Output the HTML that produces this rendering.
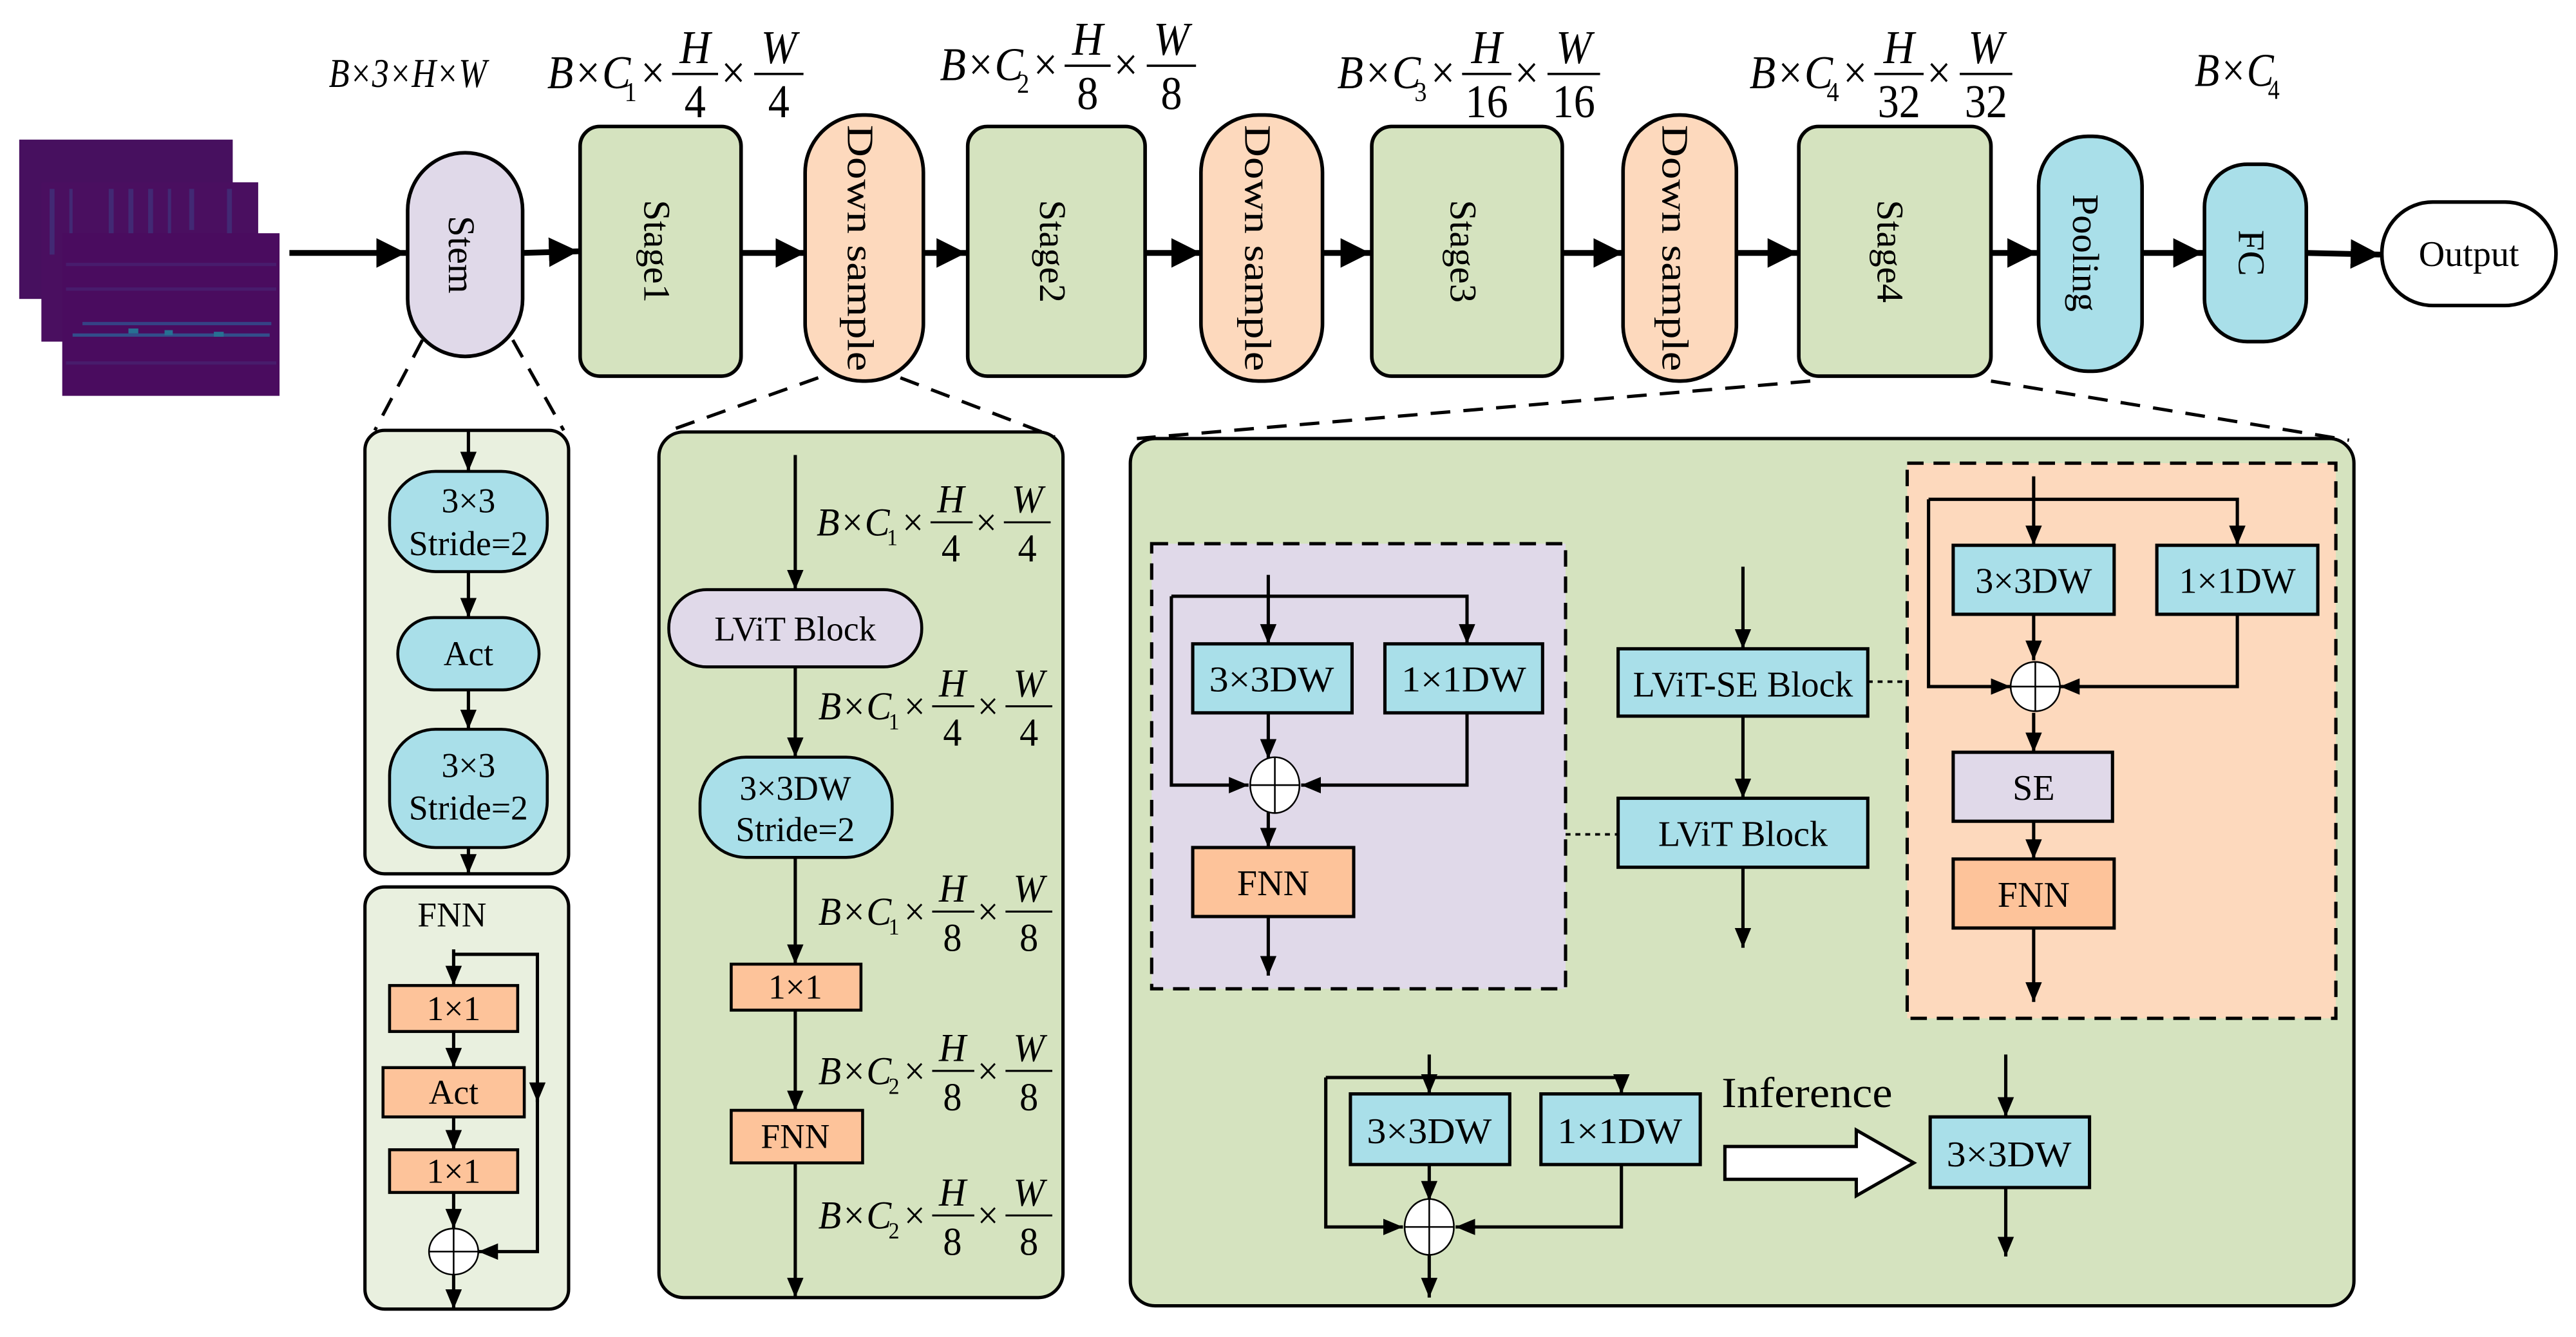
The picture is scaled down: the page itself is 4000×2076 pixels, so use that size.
<!DOCTYPE html>
<html><head><meta charset="utf-8"><style>
html,body{margin:0;padding:0;background:#fff}
svg{display:block}
text{font-family:"Liberation Serif","DejaVu Serif","Times New Roman",serif;fill:#000}
.i{font-style:italic}
</style></head><body>
<svg width="4000" height="2076" viewBox="0 0 1568 814" xmlns="http://www.w3.org/2000/svg" font-family="Liberation Serif, DejaVu Serif, serif">
<defs>
<marker id="m" markerUnits="userSpaceOnUse" markerWidth="12" markerHeight="10" refX="12" refY="5" orient="auto"><path d="M0,0L12,5L0,10z" fill="#000"/></marker>
<marker id="M" markerUnits="userSpaceOnUse" markerWidth="20" markerHeight="20" refX="18" refY="9" orient="auto"><path d="M0,0L18,9L0,18z" fill="#000"/></marker>
</defs>

<!-- spectrograms -->
<rect x="11.5" y="85" width="130" height="97" fill="#47105f"/>
<rect x="25" y="111" width="132" height="97" fill="#4a0f60"/>
<g fill="#41307a" opacity="0.8">
<rect x="30" y="115" width="3" height="40"/><rect x="42" y="115" width="2" height="35"/><rect x="66" y="115" width="3" height="50"/><rect x="78" y="115" width="3" height="40"/><rect x="90" y="115" width="3" height="30"/><rect x="102" y="115" width="2" height="40"/><rect x="115" y="115" width="3" height="25"/><rect x="138" y="115" width="3" height="40"/>
</g>
<rect x="37.7" y="142" width="132.3" height="99" fill="#4a0c5f"/>
<g opacity="0.8">
<rect x="50" y="196" width="115" height="2" fill="#30508f"/><rect x="44" y="203" width="120" height="2" fill="#2d5f96"/>
<rect x="78" y="200" width="6" height="3" fill="#1f8aa0"/><rect x="100" y="201" width="5" height="3" fill="#1f8aa0"/><rect x="130" y="202" width="6" height="3" fill="#1f8aa0"/>
</g>
<g fill="#453b88" opacity="0.35"><rect x="40" y="160" width="128" height="2"/><rect x="40" y="175" width="128" height="2"/><rect x="40" y="220" width="128" height="2"/></g>

<!-- top labels -->
<text class="i" x="200" y="53" font-size="25" transform="translate(200,0) scale(0.82,1) translate(-200,0)">B×3×H×W</text>

<g transform="translate(333,45) scale(1,1.1)" font-size="26">
<text class="i" x="0" y="8">B×C</text><text x="47" y="15" font-size="15">1</text><text x="57" y="8">×</text>
<line x1="76" y1="0" x2="104" y2="0" stroke="#000" stroke-width="1.3"/><text class="i" x="90" y="-6" text-anchor="middle">H</text><text x="90" y="24" text-anchor="middle">4</text>
<text x="106" y="8">×</text>
<line x1="126" y1="0" x2="156" y2="0" stroke="#000" stroke-width="1.3"/><text class="i" x="141" y="-6" text-anchor="middle">W</text><text x="141" y="24" text-anchor="middle">4</text>
</g>
<g transform="translate(572,40) scale(1,1.1)" font-size="26">
<text class="i" x="0" y="8">B×C</text><text x="47" y="15" font-size="15">2</text><text x="57" y="8">×</text>
<line x1="76" y1="0" x2="104" y2="0" stroke="#000" stroke-width="1.3"/><text class="i" x="90" y="-6" text-anchor="middle">H</text><text x="90" y="24" text-anchor="middle">8</text>
<text x="106" y="8">×</text>
<line x1="126" y1="0" x2="156" y2="0" stroke="#000" stroke-width="1.3"/><text class="i" x="141" y="-6" text-anchor="middle">W</text><text x="141" y="24" text-anchor="middle">8</text>
</g>
<g transform="translate(814,45) scale(1,1.1)" font-size="26">
<text class="i" x="0" y="8">B×C</text><text x="47" y="15" font-size="15">3</text><text x="57" y="8">×</text>
<line x1="76" y1="0" x2="106" y2="0" stroke="#000" stroke-width="1.3"/><text class="i" x="91" y="-6" text-anchor="middle">H</text><text x="91" y="24" text-anchor="middle">16</text>
<text x="108" y="8">×</text>
<line x1="128" y1="0" x2="160" y2="0" stroke="#000" stroke-width="1.3"/><text class="i" x="144" y="-6" text-anchor="middle">W</text><text x="144" y="24" text-anchor="middle">16</text>
</g>
<g transform="translate(1065,45) scale(1,1.1)" font-size="26">
<text class="i" x="0" y="8">B×C</text><text x="47" y="15" font-size="15">4</text><text x="57" y="8">×</text>
<line x1="76" y1="0" x2="106" y2="0" stroke="#000" stroke-width="1.3"/><text class="i" x="91" y="-6" text-anchor="middle">H</text><text x="91" y="24" text-anchor="middle">32</text>
<text x="108" y="8">×</text>
<line x1="128" y1="0" x2="160" y2="0" stroke="#000" stroke-width="1.3"/><text class="i" x="144" y="-6" text-anchor="middle">W</text><text x="144" y="24" text-anchor="middle">32</text>
</g>
<g transform="translate(1336,48) scale(0.95,1.1)" font-size="26">
<text class="i" x="0" y="4">B×C</text><text x="47" y="11" font-size="15">4</text>
</g>

<!-- top row boxes -->
<g stroke="#000" stroke-width="2.2">
<rect x="248" y="93" width="70" height="124" rx="35" fill="#e0d9e9"/>
<rect x="353" y="77" width="98" height="152" rx="12" fill="#d5e3bf"/>
<rect x="490" y="70" width="72" height="162" rx="35" fill="#fdd9bd"/>
<rect x="589" y="77" width="108" height="152" rx="12" fill="#d5e3bf"/>
<rect x="731" y="70" width="74" height="162" rx="35" fill="#fdd9bd"/>
<rect x="835" y="77" width="116" height="152" rx="12" fill="#d5e3bf"/>
<rect x="988" y="70" width="69" height="162" rx="34" fill="#fdd9bd"/>
<rect x="1095" y="77" width="117" height="152" rx="12" fill="#d5e3bf"/>
<rect x="1241" y="83" width="63" height="143" rx="30" fill="#a9dfe9"/>
<rect x="1342" y="100" width="62" height="108" rx="26" fill="#a9dfe9"/>
<rect x="1450" y="123" width="106" height="63" rx="31" fill="#fff"/>
</g>
<g font-size="23">
<text transform="translate(281,155) rotate(90)" text-anchor="middle" dy="8">Stem</text>
<text transform="translate(400,153) rotate(90)" text-anchor="middle" dy="8">Stage1</text>
<text transform="translate(524,151) rotate(90)" text-anchor="middle" dy="8" textLength="150" lengthAdjust="spacingAndGlyphs">Down sample</text>
<text transform="translate(641,153) rotate(90)" text-anchor="middle" dy="8">Stage2</text>
<text transform="translate(766,151) rotate(90)" text-anchor="middle" dy="8" textLength="150" lengthAdjust="spacingAndGlyphs">Down sample</text>
<text transform="translate(891,153) rotate(90)" text-anchor="middle" dy="8">Stage3</text>
<text transform="translate(1020,151) rotate(90)" text-anchor="middle" dy="8" textLength="150" lengthAdjust="spacingAndGlyphs">Down sample</text>
<text transform="translate(1151,153) rotate(90)" text-anchor="middle" dy="8">Stage4</text>
<text transform="translate(1270,154) rotate(90)" text-anchor="middle" dy="8">Pooling</text>
<text transform="translate(1371,154) rotate(90)" text-anchor="middle" dy="8">FC</text>
<text x="1503" y="162" text-anchor="middle" font-size="22">Output</text>
</g>
<g stroke="#000" stroke-width="3.5" marker-end="url(#M)">
<line x1="176" y1="154" x2="247" y2="154"/>
<line x1="318" y1="154" x2="352" y2="153"/>
<line x1="451" y1="154" x2="490" y2="154"/>
<line x1="562" y1="154" x2="588" y2="154"/>
<line x1="697" y1="154" x2="731" y2="154"/>
<line x1="805" y1="154" x2="834" y2="154"/>
<line x1="951" y1="154" x2="988" y2="154"/>
<line x1="1057" y1="154" x2="1094" y2="154"/>
<line x1="1212" y1="154" x2="1240" y2="154"/>
<line x1="1304" y1="154" x2="1341" y2="154"/>
<line x1="1404" y1="154" x2="1449" y2="155"/>
</g>

<!-- dashed zoom lines -->
<g stroke="#000" stroke-width="2" stroke-dasharray="12,8" fill="none">
<line x1="257" y1="207" x2="228" y2="262"/><line x1="312" y1="207" x2="343" y2="262"/>
<line x1="498" y1="230" x2="405" y2="263"/><line x1="548" y1="230" x2="642" y2="266"/>
<line x1="1102" y1="232" x2="692" y2="267"/><line x1="1212" y1="232" x2="1430" y2="268"/>
</g>

<!-- Stem detail -->
<rect x="222" y="262" width="124" height="270" rx="12" fill="#e9f0df" stroke="#000" stroke-width="2"/>
<g stroke="#000" stroke-width="1.8" fill="#a9dfe9">
<rect x="237" y="287" width="96" height="61" rx="28"/>
<rect x="242" y="376" width="86" height="44" rx="22"/>
<rect x="237" y="444" width="96" height="72" rx="28"/>
</g>
<g font-size="21" text-anchor="middle">
<text x="285" y="312">3×3</text><text x="285" y="338">Stride=2</text>
<text x="285" y="405">Act</text>
<text x="285" y="473">3×3</text><text x="285" y="499">Stride=2</text>
</g>
<g stroke="#000" stroke-width="2" marker-end="url(#m)">
<line x1="285" y1="262" x2="285" y2="287"/>
<line x1="285" y1="348" x2="285" y2="376"/>
<line x1="285" y1="420" x2="285" y2="444"/>
<line x1="285" y1="516" x2="285" y2="532"/>
</g>

<!-- FNN detail -->
<rect x="222" y="540" width="124" height="257" rx="12" fill="#e9f0df" stroke="#000" stroke-width="2"/>
<text x="275" y="564" font-size="21" text-anchor="middle">FNN</text>
<g stroke="#000" stroke-width="1.8" fill="#fdc39a">
<rect x="237" y="600" width="78" height="28"/>
<rect x="233" y="650" width="86" height="30"/>
<rect x="237" y="700" width="78" height="26"/>
</g>
<g font-size="21" text-anchor="middle">
<text x="276" y="621">1×1</text><text x="276" y="672">Act</text><text x="276" y="720">1×1</text>
</g>
<g stroke="#000" stroke-width="2" fill="none">
<line x1="276" y1="578" x2="276" y2="600" marker-end="url(#m)"/>
<line x1="276" y1="628" x2="276" y2="650" marker-end="url(#m)"/>
<line x1="276" y1="680" x2="276" y2="700" marker-end="url(#m)"/>
<line x1="276" y1="726" x2="276" y2="748" marker-end="url(#m)"/>
<line x1="276" y1="776" x2="276" y2="797" marker-end="url(#m)"/>
<polyline points="276,581 327,581 327,671"/>
<line x1="327" y1="660" x2="327" y2="671" marker-end="url(#m)"/>
<polyline points="327,668 327,762 291,762" marker-end="url(#m)"/>
</g>
<ellipse cx="276" cy="762" rx="15" ry="14" fill="#fff" stroke="#000" stroke-width="1"/>
<line x1="261" y1="762" x2="291" y2="762" stroke="#000" stroke-width="1"/><line x1="276" y1="748" x2="276" y2="776" stroke="#000" stroke-width="1"/>

<!-- Downsample detail -->
<rect x="401" y="263" width="246" height="527" rx="15" fill="#d5e3bf" stroke="#000" stroke-width="2"/>
<g stroke="#000" stroke-width="2" marker-end="url(#m)">
<line x1="484" y1="277" x2="484" y2="359"/>
<line x1="484" y1="406" x2="484" y2="461"/>
<line x1="484" y1="522" x2="484" y2="587"/>
<line x1="484" y1="615" x2="484" y2="676"/>
<line x1="484" y1="708" x2="484" y2="790"/>
</g>
<rect x="407" y="359" width="154" height="47" rx="23" fill="#e0d9e9" stroke="#000" stroke-width="1.8"/>
<rect x="426" y="461" width="117" height="61" rx="28" fill="#a9dfe9" stroke="#000" stroke-width="1.8"/>
<rect x="445" y="587" width="79" height="28" fill="#fdc39a" stroke="#000" stroke-width="1.8"/>
<rect x="445" y="676" width="80" height="32" fill="#fdc39a" stroke="#000" stroke-width="1.8"/>
<g font-size="21" text-anchor="middle">
<text x="484" y="390">LViT Block</text>
<text x="484" y="487">3×3DW</text><text x="484" y="512">Stride=2</text>
<text x="484" y="608">1×1</text>
<text x="484" y="699">FNN</text>
</g>
<g font-size="24">
<g transform="translate(497,318) scale(0.95,1)"><text class="i" x="0" y="8">B×C</text><text x="45" y="14" font-size="14">1</text><text x="55" y="8">×</text><line x1="73" y1="0" x2="100" y2="0" stroke="#000" stroke-width="1.2"/><text class="i" x="86" y="-6" text-anchor="middle">H</text><text x="86" y="24" text-anchor="middle">4</text><text x="102" y="8">×</text><line x1="120" y1="0" x2="150" y2="0" stroke="#000" stroke-width="1.2"/><text class="i" x="135" y="-6" text-anchor="middle">W</text><text x="135" y="24" text-anchor="middle">4</text></g>
<g transform="translate(498,430) scale(0.95,1)"><text class="i" x="0" y="8">B×C</text><text x="45" y="14" font-size="14">1</text><text x="55" y="8">×</text><line x1="73" y1="0" x2="100" y2="0" stroke="#000" stroke-width="1.2"/><text class="i" x="86" y="-6" text-anchor="middle">H</text><text x="86" y="24" text-anchor="middle">4</text><text x="102" y="8">×</text><line x1="120" y1="0" x2="150" y2="0" stroke="#000" stroke-width="1.2"/><text class="i" x="135" y="-6" text-anchor="middle">W</text><text x="135" y="24" text-anchor="middle">4</text></g>
<g transform="translate(498,555) scale(0.95,1)"><text class="i" x="0" y="8">B×C</text><text x="45" y="14" font-size="14">1</text><text x="55" y="8">×</text><line x1="73" y1="0" x2="100" y2="0" stroke="#000" stroke-width="1.2"/><text class="i" x="86" y="-6" text-anchor="middle">H</text><text x="86" y="24" text-anchor="middle">8</text><text x="102" y="8">×</text><line x1="120" y1="0" x2="150" y2="0" stroke="#000" stroke-width="1.2"/><text class="i" x="135" y="-6" text-anchor="middle">W</text><text x="135" y="24" text-anchor="middle">8</text></g>
<g transform="translate(498,652) scale(0.95,1)"><text class="i" x="0" y="8">B×C</text><text x="45" y="14" font-size="14">2</text><text x="55" y="8">×</text><line x1="73" y1="0" x2="100" y2="0" stroke="#000" stroke-width="1.2"/><text class="i" x="86" y="-6" text-anchor="middle">H</text><text x="86" y="24" text-anchor="middle">8</text><text x="102" y="8">×</text><line x1="120" y1="0" x2="150" y2="0" stroke="#000" stroke-width="1.2"/><text class="i" x="135" y="-6" text-anchor="middle">W</text><text x="135" y="24" text-anchor="middle">8</text></g>
<g transform="translate(498,740) scale(0.95,1)"><text class="i" x="0" y="8">B×C</text><text x="45" y="14" font-size="14">2</text><text x="55" y="8">×</text><line x1="73" y1="0" x2="100" y2="0" stroke="#000" stroke-width="1.2"/><text class="i" x="86" y="-6" text-anchor="middle">H</text><text x="86" y="24" text-anchor="middle">8</text><text x="102" y="8">×</text><line x1="120" y1="0" x2="150" y2="0" stroke="#000" stroke-width="1.2"/><text class="i" x="135" y="-6" text-anchor="middle">W</text><text x="135" y="24" text-anchor="middle">8</text></g>
</g>

<!-- Stage4 detail -->
<rect x="688" y="267" width="745" height="528" rx="15" fill="#d5e3bf" stroke="#000" stroke-width="2"/>
<rect x="701" y="331" width="252" height="271" fill="#e0d9e9" stroke="#000" stroke-width="2" stroke-dasharray="10,6"/>
<rect x="1161" y="282" width="261" height="338" fill="#fdd9bd" stroke="#000" stroke-width="2" stroke-dasharray="10,6"/>
<g stroke="#000" stroke-width="1.5" stroke-dasharray="3,3">
<line x1="953" y1="508" x2="985" y2="508"/><line x1="1137" y1="415" x2="1162" y2="415"/>
</g>
<g stroke="#000" stroke-width="2" fill="#a9dfe9">
<rect x="726" y="392" width="97" height="42"/><rect x="843" y="392" width="96" height="42"/>
<rect x="985" y="395" width="152" height="41"/><rect x="985" y="486" width="152" height="42"/>
<rect x="1189" y="332" width="98" height="42"/><rect x="1313" y="332" width="98" height="42"/>
<rect x="822" y="666" width="97" height="43"/><rect x="938" y="666" width="97" height="43"/>
<rect x="1175" y="680" width="97" height="43"/>
<rect x="1189" y="458" width="97" height="42" fill="#e0d9e9"/>
<rect x="726" y="516" width="98" height="42" fill="#fdc39a"/>
<rect x="1189" y="523" width="98" height="42" fill="#fdc39a"/>
</g>
<g font-size="22" text-anchor="middle">
<text x="774" y="421" textLength="76" lengthAdjust="spacingAndGlyphs">3×3DW</text>
<text x="891" y="421" textLength="76" lengthAdjust="spacingAndGlyphs">1×1DW</text>
<text x="775" y="545">FNN</text>
<text x="1061" y="424" textLength="134" lengthAdjust="spacingAndGlyphs">LViT-SE Block</text>
<text x="1061" y="515">LViT Block</text>
<text x="1238" y="361">3×3DW</text>
<text x="1362" y="361">1×1DW</text>
<text x="1238" y="487">SE</text>
<text x="1238" y="552">FNN</text>
<text x="870" y="696" textLength="76" lengthAdjust="spacingAndGlyphs">3×3DW</text>
<text x="986" y="696" textLength="76" lengthAdjust="spacingAndGlyphs">1×1DW</text>
<text x="1223" y="710" textLength="76" lengthAdjust="spacingAndGlyphs">3×3DW</text>
<text x="1100" y="674" font-size="26" textLength="104" lengthAdjust="spacingAndGlyphs">Inference</text>
</g>
<g stroke="#000" stroke-width="2" fill="none">
<line x1="772" y1="350" x2="772" y2="392" marker-end="url(#m)"/>
<polyline points="713,363 893,363 893,392" marker-end="url(#m)"/>
<polyline points="713,363 713,478 760,478" marker-end="url(#m)"/>
<line x1="772" y1="434" x2="772" y2="462" marker-end="url(#m)"/>
<polyline points="893,434 893,478 792,478" marker-end="url(#m)"/>
<line x1="772" y1="494" x2="772" y2="516" marker-end="url(#m)"/>
<line x1="772" y1="558" x2="772" y2="594" marker-end="url(#m)"/>
<line x1="1061" y1="345" x2="1061" y2="395" marker-end="url(#m)"/>
<line x1="1061" y1="436" x2="1061" y2="486" marker-end="url(#m)"/>
<line x1="1061" y1="528" x2="1061" y2="577" marker-end="url(#m)"/>
<line x1="1238" y1="290" x2="1238" y2="332" marker-end="url(#m)"/>
<polyline points="1174,304 1362,304 1362,332" marker-end="url(#m)"/>
<polyline points="1174,304 1174,418 1224,418" marker-end="url(#m)"/>
<line x1="1238" y1="374" x2="1238" y2="402" marker-end="url(#m)"/>
<polyline points="1362,374 1362,418 1254,418" marker-end="url(#m)"/>
<line x1="1238" y1="434" x2="1238" y2="458" marker-end="url(#m)"/>
<line x1="1238" y1="500" x2="1238" y2="523" marker-end="url(#m)"/>
<line x1="1238" y1="565" x2="1238" y2="610" marker-end="url(#m)"/>
<line x1="870" y1="642" x2="870" y2="666" marker-end="url(#m)"/>
<polyline points="807,656 987,656 987,666" marker-end="url(#m)"/>
<polyline points="807,656 807,747 854,747" marker-end="url(#m)"/>
<line x1="870" y1="709" x2="870" y2="731" marker-end="url(#m)"/>
<polyline points="987,709 987,747 886,747" marker-end="url(#m)"/>
<line x1="870" y1="763" x2="870" y2="790" marker-end="url(#m)"/>
<line x1="1221" y1="642" x2="1221" y2="680" marker-end="url(#m)"/>
<line x1="1221" y1="723" x2="1221" y2="765" marker-end="url(#m)"/>
<polygon points="1050,698 1130,698 1130,688 1165,708 1130,728 1130,718 1050,718" fill="#fff" stroke-width="2"/>
</g>
<g fill="#fff" stroke="#000" stroke-width="1">
<ellipse cx="776" cy="478" rx="15" ry="17"/><ellipse cx="1239" cy="418" rx="15" ry="15"/><ellipse cx="870" cy="747" rx="15" ry="17"/>
</g>
<g stroke="#000" stroke-width="1">
<line x1="761" y1="478" x2="791" y2="478"/><line x1="776" y1="461" x2="776" y2="495"/>
<line x1="1224" y1="418" x2="1254" y2="418"/><line x1="1239" y1="403" x2="1239" y2="433"/>
<line x1="855" y1="747" x2="885" y2="747"/><line x1="870" y1="730" x2="870" y2="764"/>
</g>
</svg>
</body></html>
